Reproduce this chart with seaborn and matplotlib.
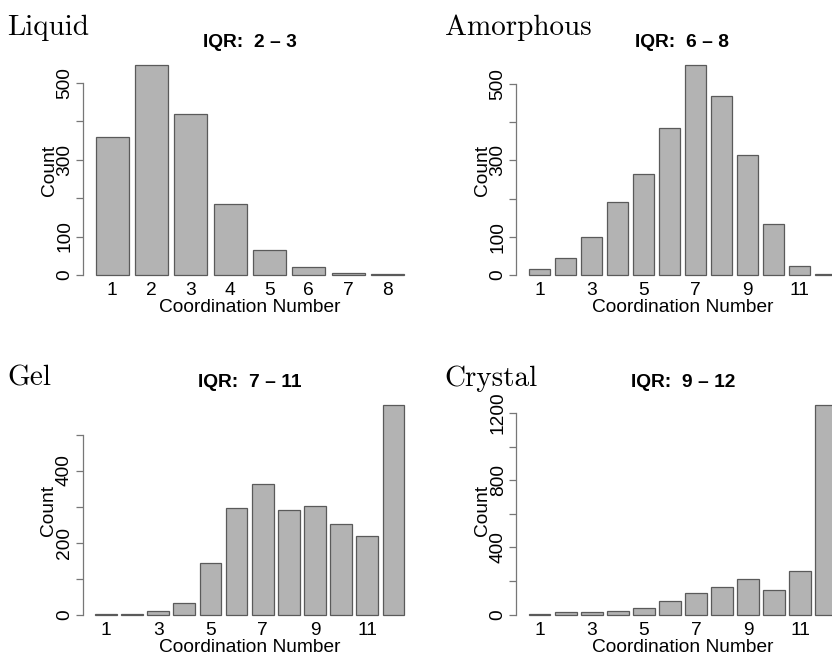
import pandas as pd
import seaborn as sns
import matplotlib.pyplot as plt

# counts per coordination number
liquid_counts = [360, 545, 418, 185, 64, 20, 5, 2]
amorphous_counts = [15, 45, 100, 190, 265, 385, 549, 469, 315, 133, 24, 2]
gel_counts = [2, 2, 10, 32, 143, 296, 363, 290, 301, 251, 219, 581]
crystal_counts = [4, 14, 14, 22, 42, 83, 127, 165, 212, 147, 262, 1246]

panel_names = ["Liquid", "Amorphous", "Gel", "Crystal"]
iqr_titles = ["IQR:  2 – 3", "IQR:  6 – 8", "IQR:  7 – 11", "IQR:  9 – 12"]

y_ticks = [
    [0, 100, 200, 300, 400, 500],
    [0, 100, 200, 300, 400, 500],
    [0, 100, 200, 300, 400, 500],
    [0, 200, 400, 600, 800, 1000, 1200],
]
y_tick_labels = [
    ["0", "100", "", "300", "", "500"],
    ["0", "100", "", "300", "", "500"],
    ["0", "", "200", "", "400", ""],
    ["0", "", "400", "", "800", "", "1200"],
]

sns.set_style("white")
plt.rcParams["font.family"] = ["Liberation Sans", "DejaVu Sans"]
plt.rcParams["text.color"] = "black"
plt.rcParams["axes.labelcolor"] = "black"
plt.rcParams["xtick.color"] = "black"
plt.rcParams["ytick.color"] = "black"

W, H = 832, 656
fig = plt.figure(figsize=(W / 100, H / 100), dpi=100)

# axes rectangles in pixels: left, top, right, bottom
rects = [
    (83.4, 57, 416.3, 283.4),
    (516.4, 57, 848.5, 283.4),
    (82.6, 397, 416.7, 623),
    (516.4, 397, 849.5, 623),
]
label_pos = [(7.5, 35), (445, 35), (7.5, 386), (444, 386)]

all_counts = [liquid_counts, amorphous_counts, gel_counts, crystal_counts]
bar_w = 1 / 1.2
fs = 13.8

for i, counts in enumerate(all_counts):
    l, t, r, b = rects[i]
    ax = fig.add_axes([l / W, 1 - b / H, (r - l) / W, (b - t) / H])
    df = pd.DataFrame({"cn": range(1, len(counts) + 1), "count": counts})
    sns.barplot(data=df, x="cn", y="count", color="#b3b3b3", saturation=1,
                edgecolor="#5a5a5a", linewidth=0.9, width=bar_w,
                errorbar=None, ax=ax)

    n = len(counts)
    span = n - 1 + bar_w
    ax.set_xlim(-bar_w / 2 - 0.04 * span, n - 1 + bar_w / 2 + 0.04 * span)
    mx = max(counts)
    ax.set_ylim(-0.04 * mx, 1.04 * mx)

    for s in ["top", "right", "bottom"]:
        ax.spines[s].set_visible(False)
    ax.spines["left"].set_bounds(y_ticks[i][0], y_ticks[i][-1])
    ax.spines["left"].set_color("#777777")
    ax.spines["left"].set_linewidth(0.9)

    ax.set_yticks(y_ticks[i])
    ax.set_yticklabels(y_tick_labels[i], rotation=90, va="center", fontsize=fs)
    ax.tick_params(axis="y", length=5, width=0.9, color="#777777", pad=2,
                   direction="out", left=True, labelcolor="black")

    if n <= 8:
        xl = [str(k) for k in df["cn"]]
    else:
        xl = [str(k) if k % 2 == 1 else "" for k in df["cn"]]
    ax.set_xticks(range(n))
    ax.set_xticklabels(xl, fontsize=fs)
    ax.tick_params(axis="x", length=0, pad=-1, labelcolor="black")

    ax.set_xlabel("Coordination Number", fontsize=fs, labelpad=0)
    ax.set_ylabel("Count", fontsize=fs, labelpad=-1)
    ax.set_title(iqr_titles[i], fontsize=fs, fontweight="bold", pad=7)

    x0, yb = label_pos[i]
    fig.text(x0 / W, 1 - yb / H, panel_names[i], family="cmr10",
             fontsize=21, va="baseline", ha="left")

fig.savefig("out.png", dpi=100)
